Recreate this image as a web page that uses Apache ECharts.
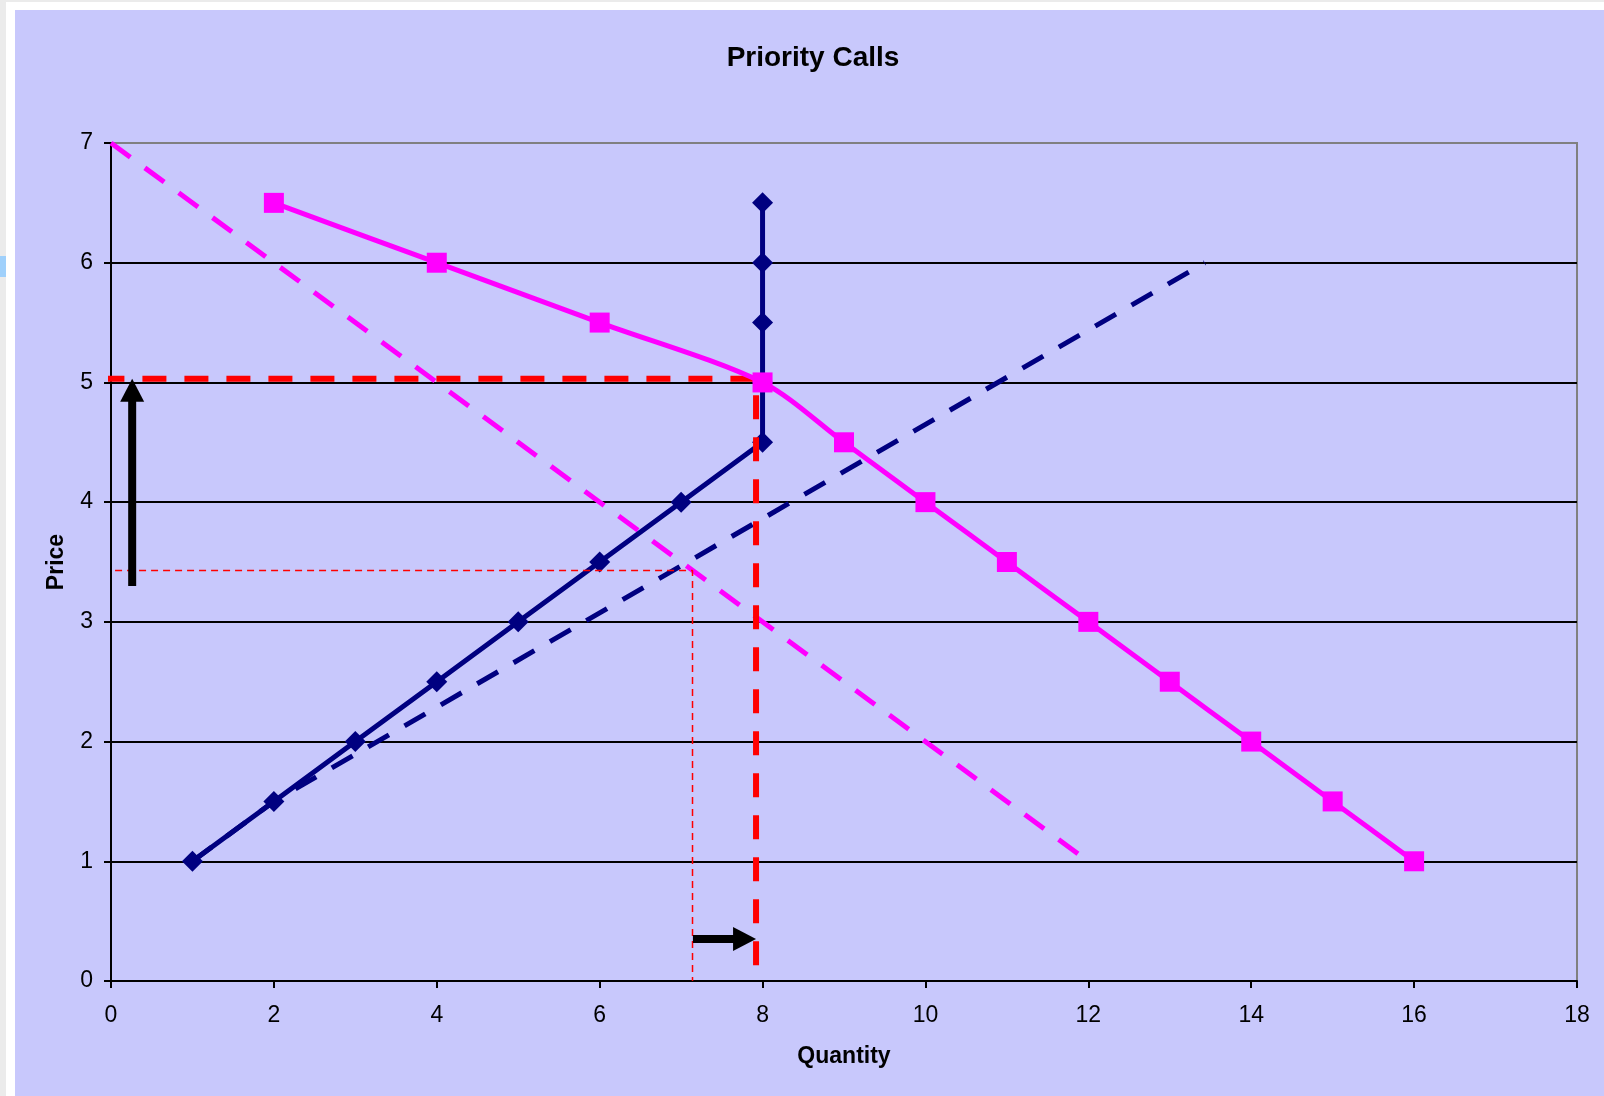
<!DOCTYPE html>
<html>
<head>
<meta charset="utf-8">
<script src="https://cdn.jsdelivr.net/npm/echarts@6/dist/echarts.min.js"></script>
<style>
  html, body { margin: 0; padding: 0; background: #ffffff; }
  #wrap { position: relative; width: 1604px; height: 1096px; overflow: hidden; background: #ffffff; }
  #edgeLeft { position: absolute; left: 0; top: 0; width: 6px; height: 1096px; background: #ebebeb; }
  #edgeTop { position: absolute; left: 0; top: 0; width: 1604px; height: 2px; background: #ebebeb; }
  #tab { position: absolute; left: 0; top: 256px; width: 6px; height: 21px; background: #9fd0fb; }
  #panel { position: absolute; left: 15px; top: 10px; right: 0; bottom: 0; background: #c8c8fc; }
  #chart { position: absolute; left: 0; top: 0; width: 1604px; height: 1096px; }
</style>
</head>
<body>
<div id="wrap">
  <div id="edgeLeft"></div>
  <div id="edgeTop"></div>
  <div id="tab"></div>
  <div id="panel"></div>
  <div id="chart"></div>
</div>
<script>
// Supply of priority calls (navy diamonds)
const supplyQty   = [1, 2, 3, 4, 5, 6, 7, 8, 8, 8, 8, 8];
const supplyPrice = [1, 1.5, 2, 2.5, 3, 3.5, 4, 4.5, 5, 5.5, 6, 6.5];

// Demand for priority calls (magenta squares)
const demandQty   = [2, 4, 6, 8, 9, 10, 11, 12, 13, 14, 15, 16];
const demandPrice = [6.5, 6, 5.5, 5, 4.5, 4, 3.5, 3, 2.5, 2, 1.5, 1];

// Original (dashed) supply and demand lines
const oldSupply = [[1, 1], [2, 1.5], [13.43, 6]];
const oldDemand = [[0, 7], [12, 1]];

// Guide lines: new equilibrium (thick) and original equilibrium (thin)
const newEquilibrium = [[-0.13, 5.03], [7.92, 5.03], [7.92, 0]];
const oldEquilibrium = [[0.05, 3.43], [7.14, 3.43], [7.14, 0]];

// Arrows: [x1, y1, x2, y2], tip at (x2, y2)
const arrows = [
  [0.26, 3.3, 0.26, 5.03],
  [7.145, 0.35, 7.92, 0.35]
];

const xTicks = { min: 0, max: 18, interval: 2 };
const yTicks = { min: 0, max: 7, interval: 1 };

const pair = (xs, ys) => xs.map((x, i) => [x, ys[i]]);

const FONT = "'Liberation Sans', Arial, sans-serif";

const chart = echarts.init(document.getElementById('chart'), null, { renderer: 'canvas' });

chart.setOption({
  backgroundColor: 'transparent',
  animation: false,
  title: {
    text: 'Priority Calls',
    left: 808,
    top: 39,
    textAlign: 'center',
    textStyle: { fontFamily: FONT, fontSize: 28, fontWeight: 'bold', color: '#000' }
  },
  grid: {
    left: 111, top: 143, width: 1466, height: 838,
    show: true, borderColor: '#808080', borderWidth: 2, backgroundColor: 'transparent'
  },
  xAxis: {
    type: 'value',
    min: xTicks.min, max: xTicks.max, interval: xTicks.interval,
    name: 'Quantity',
    nameLocation: 'middle',
    nameGap: 64,
    nameTextStyle: { fontFamily: FONT, fontSize: 23, fontWeight: 'bold', color: '#000' },
    axisLine: { show: true, onZero: false, lineStyle: { color: '#000', width: 2 } },
    axisTick: { show: true, inside: false, length: 7, lineStyle: { color: '#000', width: 2 } },
    axisLabel: { margin: 23, fontFamily: FONT, fontSize: 23, color: '#000' },
    splitLine: { show: false }
  },
  yAxis: {
    type: 'value',
    min: yTicks.min, max: yTicks.max, interval: yTicks.interval,
    name: 'Price',
    nameLocation: 'middle',
    nameRotate: 90,
    nameGap: 43,
    nameTextStyle: { fontFamily: FONT, fontSize: 23, fontWeight: 'bold', color: '#000' },
    axisLine: { show: true, onZero: false, lineStyle: { color: '#000', width: 2 } },
    axisTick: { show: true, inside: false, length: 7, lineStyle: { color: '#000', width: 2 } },
    axisLabel: { margin: 18, fontFamily: FONT, fontSize: 23, color: '#000' },
    splitLine: { show: true, showMaxLine: false, lineStyle: { color: '#000', width: 2 } }
  },
  series: [
    {
      name: 'old supply',
      type: 'line',
      data: oldSupply,
      symbol: 'none',
      z: 2,
      lineStyle: { color: '#000080', width: 5, type: [24, 18], cap: 'butt' }
    },
    {
      name: 'old demand',
      type: 'line',
      data: oldDemand,
      symbol: 'none',
      z: 2,
      lineStyle: { color: '#ff00ff', width: 5, type: [24, 18], cap: 'butt' }
    },
    {
      name: 'supply',
      type: 'line',
      data: pair(supplyQty, supplyPrice),
      smooth: false,
      symbol: 'diamond',
      symbolSize: [21, 21],
      z: 3,
      itemStyle: { color: '#000080', borderWidth: 0 },
      lineStyle: { color: '#000080', width: 5 }
    },
    {
      name: 'old equilibrium',
      type: 'line',
      data: oldEquilibrium,
      symbol: 'none',
      clip: false,
      z: 4,
      lineStyle: { color: '#ff0000', width: 1.5, type: [7, 5], cap: 'butt' }
    },
    {
      name: 'new equilibrium',
      type: 'line',
      data: newEquilibrium,
      symbol: 'none',
      clip: false,
      z: 4,
      lineStyle: { color: '#ff0000', width: 6, type: [24, 18], cap: 'butt', join: 'miter' }
    },
    {
      name: 'demand',
      type: 'line',
      data: pair(demandQty, demandPrice),
      smooth: 0.3,
      symbol: 'rect',
      symbolSize: 20,
      z: 5,
      itemStyle: { color: '#ff00ff', borderWidth: 0 },
      lineStyle: { color: '#ff00ff', width: 5 }
    },
    {
      name: 'arrows',
      type: 'custom',
      data: arrows,
      encode: { x: [0, 2], y: [1, 3] },
      z: 6,
      renderItem: function (params, api) {
        const p1 = api.coord([api.value(0), api.value(1)]);
        const p2 = api.coord([api.value(2), api.value(3)]);
        const dx = p2[0] - p1[0], dy = p2[1] - p1[1];
        const len = Math.hypot(dx, dy);
        const ux = dx / len, uy = dy / len;
        const nx = -uy, ny = ux;
        const headLen = 23, headHalf = 12;
        const bx = p2[0] - ux * headLen, by = p2[1] - uy * headLen;
        return {
          type: 'group',
          children: [
            {
              type: 'line',
              shape: { x1: p1[0], y1: p1[1], x2: bx + ux * 2, y2: by + uy * 2 },
              style: { stroke: '#000', lineWidth: 8, lineCap: 'butt' }
            },
            {
              type: 'polygon',
              shape: { points: [p2, [bx + nx * headHalf, by + ny * headHalf], [bx - nx * headHalf, by - ny * headHalf]] },
              style: { fill: '#000' }
            }
          ]
        };
      }
    }
  ]
});
</script>
</body>
</html>
